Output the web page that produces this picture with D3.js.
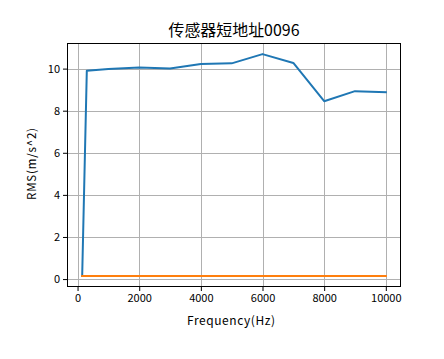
<!DOCTYPE html>
<html><head><meta charset="utf-8">
<script src="https://cdn.jsdelivr.net/npm/d3@7"></script>
<style>body{margin:0;background:#fff}svg{display:block}text{font-family:"Noto Sans CJK SC","DejaVu Sans",sans-serif;fill:#000}</style>
</head><body><svg id="c" width="444" height="359"></svg>
<script>
const freqs = [150, 300, 1000, 2000, 3000, 4000, 5000, 6000, 7000, 8000, 9000, 10000];
const blueValues = [0.15, 9.9, 9.98, 10.05, 10.0, 10.22, 10.25, 10.69, 10.27, 8.45, 8.93, 8.88];
const orangeValues = [0.15, 0.15, 0.15, 0.15, 0.15, 0.15, 0.15, 0.15, 0.15, 0.15, 0.15, 0.15];
const xTicks = [0, 2000, 4000, 6000, 8000, 10000];
const yTicks = [0, 2, 4, 6, 8, 10];
const title = "传感器短地址0096";
const xLabel = "Frequency(Hz)";
const yLabel = "RMS(m/s^2)";

const L = 67, R = 401, T = 43, B = 287;
const svg = d3.select("#c");
const all = blueValues.concat(orangeValues);
const xmin = d3.min(freqs), xmax = d3.max(freqs);
const ymin = d3.min(all), ymax = d3.max(all);
const xm = (xmax - xmin) * 0.05, ym = (ymax - ymin) * 0.05;
const x = d3.scaleLinear().domain([xmin - xm, xmax + xm]).range([L, R]);
const y = d3.scaleLinear().domain([ymin - ym, ymax + ym]).range([B, T]);

// grid
const g = svg.append("g");
g.selectAll(".gx").data(xTicks).enter().append("line")
  .attr("x1", d => Math.round(x(d)) + 0.5).attr("x2", d => Math.round(x(d)) + 0.5)
  .attr("y1", T).attr("y2", B).attr("stroke", "#b0b0b0").attr("stroke-width", 1);
g.selectAll(".gy").data(yTicks).enter().append("line")
  .attr("y1", d => Math.round(y(d)) + 0.5).attr("y2", d => Math.round(y(d)) + 0.5)
  .attr("x1", L).attr("x2", R).attr("stroke", "#b0b0b0").attr("stroke-width", 1);

// lines
const line = vals => d3.line().x((d, i) => x(freqs[i])).y(d => y(d))(vals);
svg.append("path").attr("d", line(blueValues)).attr("fill", "none")
  .attr("stroke", "#1f77b4").attr("stroke-width", 2).attr("stroke-linejoin", "round").attr("stroke-linecap", "square");
svg.append("path").attr("d", line(orangeValues)).attr("fill", "none")
  .attr("stroke", "#ff7f0e").attr("stroke-width", 2).attr("stroke-linecap", "square");

// axes
const xa = svg.append("g").attr("transform", `translate(0,${B})`)
  .call(d3.axisBottom(x).tickValues(xTicks).tickFormat(d3.format("d")).tickSize(4).tickPadding(3));
const ya = svg.append("g").attr("transform", `translate(${L},0)`)
  .call(d3.axisLeft(y).tickValues(yTicks).tickFormat(d3.format("d")).tickSize(4).tickPadding(3));
[xa, ya].forEach(a => {
  a.select(".domain").remove();
  a.selectAll("line").attr("stroke", "#000");
  a.selectAll("text").attr("font-size", 11).attr("font-family", "Noto Sans CJK SC").attr("fill", "#000");
});
svg.append("rect").attr("x", L + 0.5).attr("y", T + 0.5).attr("width", R - L - 1).attr("height", B - T - 1)
  .attr("fill", "none").attr("stroke", "#000").attr("stroke-width", 1);

svg.append("text").attr("x", (L + R) / 2).attr("y", 36).attr("text-anchor", "middle")
  .attr("font-size", 15.5).attr("textLength", 131).attr("lengthAdjust", "spacingAndGlyphs").text(title);
svg.append("text").attr("x", (L + R) / 2 - 3).attr("y", 325).attr("text-anchor", "middle")
  .attr("font-size", 12).attr("textLength", 88).attr("lengthAdjust", "spacing").text(xLabel);
svg.append("text").attr("transform", `translate(36,${(T + B) / 2 - 1}) rotate(-90)`).attr("text-anchor", "middle")
  .attr("font-size", 11.5).attr("textLength", 72).attr("lengthAdjust", "spacing").text(yLabel);
</script></body></html>
